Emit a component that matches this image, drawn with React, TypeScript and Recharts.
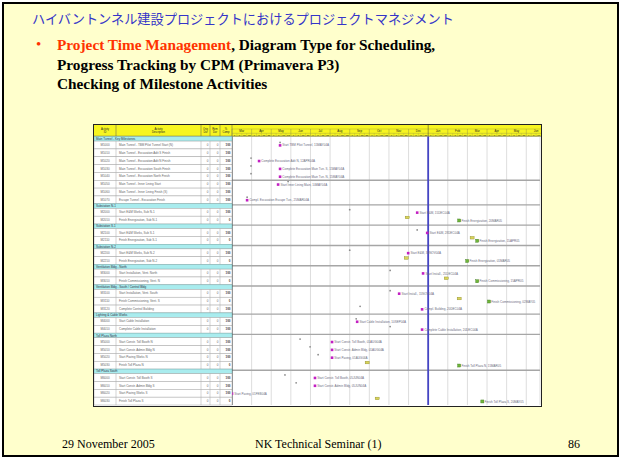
import React from "react";
import {
  ScatterChart,
  Scatter,
  XAxis,
  YAxis,
  CartesianGrid,
  ReferenceLine,
} from "recharts";

// --- schedule data ---
const groupNames = [
  "Main Tunnel - Key Milestones",
  "Substation N-1",
  "Substation S-1",
  "Substation N-2",
  "Ventilation Bldg - North",
  "Ventilation Bldg - South / Control Bldg",
  "Lighting & Cable Works",
  "Toll Plaza North",
  "Toll Plaza South",
];
const groupSizes = [8, 2, 2, 2, 2, 3, 2, 4, 4];

const activityIds = [
  "M1000", "M1010", "M1020", "M1030", "M1040", "M1050", "M1060", "M1070",
  "M2000", "M2010",
  "M2100", "M2110",
  "M2200", "M2210",
  "M3000", "M3010",
  "M3100", "M3110", "M3120",
  "M4000", "M4010",
  "M5000", "M5010", "M5020", "M5030",
  "M6000", "M6010", "M6020", "M6030",
];
const activityNames = [
  "Main Tunnel - TBM Pilot Tunnel Start (N)",
  "Main Tunnel - Excavation Adit S Finish",
  "Main Tunnel - Excavation Adit N Finish",
  "Main Tunnel - Excavation South Finish",
  "Main Tunnel - Excavation North Finish",
  "Main Tunnel - Inner Lining Start",
  "Main Tunnel - Inner Lining Finish (S)",
  "Escape Tunnel - Excavation Finish",
  "Start E&M Works, Sub N-1",
  "Finish Energization, Sub N-1",
  "Start E&M Works, Sub S-1",
  "Finish Energization, Sub S-1",
  "Start E&M Works, Sub N-2",
  "Finish Energization, Sub N-2",
  "Start Installation, Vent. North",
  "Finish Commissioning, Vent. N",
  "Start Installation, Vent. South",
  "Finish Commissioning, Vent. S",
  "Complete Control Building",
  "Start Cable Installation",
  "Complete Cable Installation",
  "Start Constr. Toll Booth N",
  "Start Constr. Admin Bldg N",
  "Start Paving Works N",
  "Finish Toll Plaza N",
  "Start Constr. Toll Booth S",
  "Start Constr. Admin Bldg S",
  "Start Paving Works S",
  "Finish Toll Plaza S",
];
const origDur = [
  0, 0, 0, 0, 0, 0, 0, 0, 0, 0, 0, 0, 0, 0, 0, 0, 0, 0, 0, 0, 0, 0, 0, 0, 0,
  0, 0, 0, 0,
];
const remDur = [
  0, 0, 0, 0, 0, 0, 0, 0, 0, 0, 0, 0, 0, 0, 0, 0, 0, 0, 0, 0, 0, 0, 0, 0, 0,
  0, 0, 0, 0,
];
const pctComplete = [
  100, 100, 100, 100, 100, 100, 100, 100,
  100, 0,
  100, 0,
  100, 0,
  100, 0,
  100, 0, 100,
  100, 100,
  100, 100, 100, 0,
  100, 100, 100, 0,
];
// months from Mar 2004
const baselineMonth: (number | null)[] = [
  2.45, null, 0.97, 0.97, 0.97, 2.86, null, 0.77,
  6.0, 8.93,
  9.44, 12.24,
  6.0, 8.88,
  8.06, 10.92,
  8.06, 11.58, 6.53,
  6.33, 8.06,
  3.47, 3.98, 4.39, 6.89,
  2.7, 3.27, null, 7.4,
];
const actualMonth: (number | null)[] = [
  2.45, null, 1.38, 2.45, 2.45, 2.35, null, 0.77,
  9.44, 11.58,
  9.95, 12.5,
  8.98, 11.99,
  9.74, 12.5,
  8.52, 13.1, 9.69,
  6.38, 9.69,
  5.1, 5.1, 5.1, 11.58,
  4.23, 4.23, 0, 12.76,
];
const barLabels = [
  "Start TBM Pilot Tunnel, 15MAY04A",
  "",
  "Complete Excavation Adit N, 12APR04A",
  "Complete Excavation Main Tun. S, 15MAY04A",
  "Complete Excavation Main Tun. N, 15MAY04A",
  "Start Inner Lining Main, 10MAY04A",
  "",
  "Compl. Excavation Escape Tun., 25MAR04A",
  "Start E&M, 15DEC04A",
  "Finish Energization, 20MAR05",
  "Start E&M, 28DEC04A",
  "Finish Energization, 15APR05",
  "Start E&M, 30NOV04A",
  "Finish Energization, 01MAR05",
  "Start Install., 25DEC04A",
  "Finish Commissioning, 15APR05",
  "Start Install., 15NOV04A",
  "Finish Commissioning, 02MAY05",
  "Compl. Building, 20DEC04A",
  "Start Cable Installation, 10SEP04A",
  "Complete Cable Installation, 20DEC04A",
  "Start Constr. Toll Booth, 01AUG04A",
  "Start Constr. Admin Bldg, 01AUG04A",
  "Start Paving, 01AUG04A",
  "Finish Toll Plaza N, 15MAR05",
  "Start Constr. Toll Booth, 05JUN04A",
  "Start Constr. Admin Bldg, 05JUN04A",
  "Start Paving, 01FEB04A",
  "Finish Toll Plaza S, 20MAY05",
];
const monthNames = [
  "Mar", "Apr", "May", "Jun", "Jul", "Aug", "Sep", "Oct",
  "Nov", "Dec", "Jan", "Feb", "Mar", "Apr", "May", "Jun",
];
const monthTicks = [0, 1, 2, 3, 4, 5, 6, 7, 8, 9, 10, 11, 12, 13, 14, 15];
const weekDays = ["1", "8", "15", "22"];
const yearNames = ["2004", "2005"];
const yearLabelAt = [5, 13.4];
const dataDate = 10;
const breakBefore = [5]; // extra separator line inside the first group

// --- layout ---
const GANTT_W = 447;
const GANTT_H = 281;
const HEAD_H = 11.5;
const TABLE_W = 138;
const GROUP_H = 4.6;
const ROW_H = 7.85;
const X_MAX = 15.7;
const PLOT_W = GANTT_W - TABLE_W - 1;
const PLOT_H = GANTT_H - HEAD_H - 1;
const MONTH_PX = PLOT_W / X_MAX;
const COLS = [0, 22, 107, 116, 126, 138];
const TINY = "'Liberation Sans', Arial, sans-serif";

type Row = { kind: "group" | "act"; top: number; h: number; idx: number };
const rows: Row[] = [];
const actTop: number[] = [];
let cursor = 0;
let ai = 0;
groupSizes.forEach((n, g) => {
  rows.push({ kind: "group", top: cursor, h: GROUP_H, idx: g });
  cursor += GROUP_H;
  for (let k = 0; k < n; k++) {
    rows.push({ kind: "act", top: cursor, h: ROW_H, idx: ai });
    actTop.push(cursor);
    cursor += ROW_H;
    ai++;
  }
});
const TOTAL = cursor;
const PX = PLOT_H / TOTAL;
const rowTicks = rows.map((r) => r.top + r.h / 2);
const groupLines = rows
  .filter((r) => r.kind === "group" && r.idx > 0)
  .map((r) => r.top + 1.2)
  .concat(breakBefore.map((i) => actTop[i]));

const baselineData = activityIds
  .map((id, i) => ({
    id,
    x: baselineMonth[i],
    y: actTop[i] + 1.3,
    done: pctComplete[i] === 100,
  }))
  .filter((d) => d.x !== null);
const actualData = activityIds
  .map((id, i) => ({
    id,
    x: actualMonth[i],
    y: actTop[i] + 4.3,
    done: pctComplete[i] === 100,
    label: barLabels[i],
  }))
  .filter((d) => d.x !== null);

const RowTick = (props: any) => {
  const { y, payload } = props;
  const k = rowTicks.indexOf(payload.value);
  const r = rows[k];
  if (!r) return null;
  const h = r.h * PX;
  const top = y - h / 2;
  if (r.kind === "group") {
    return (
      <g>
        <rect x={0} y={top} width={TABLE_W} height={h} fill="#A9ECEE" stroke="#7aa" strokeWidth={0.5} />
        <text x={2} y={y + 1.1} fontSize={3} fontFamily={TINY} fill="#334">
          {groupNames[r.idx]}
        </text>
      </g>
    );
  }
  const i = r.idx;
  return (
    <g fontFamily={TINY} fontSize={3} fill="#666">
      <rect x={0} y={top} width={TABLE_W} height={h} fill="#fff" stroke="#a4a4a4" strokeWidth={0.5} />
      {COLS.slice(1, -1).map((c) => (
        <line key={c} x1={c} x2={c} y1={top} y2={top + h} stroke="#a4a4a4" strokeWidth={0.5} />
      ))}
      <text x={11} y={y + 1.1} textAnchor="middle">{activityIds[i]}</text>
      <text x={25} y={y + 1.1}>{activityNames[i]}</text>
      <text x={114.5} y={y + 1.1} textAnchor="end">{origDur[i]}</text>
      <text x={124.5} y={y + 1.1} textAnchor="end">{remDur[i]}</text>
      <text x={136.5} y={y + 1.1} textAnchor="end" fill="#333" fontWeight="bold">
        {pctComplete[i]}
      </text>
    </g>
  );
};

const MonthTick = (props: any) => {
  const { x, payload } = props;
  const m = payload.value;
  const name = monthNames[m];
  const right = TABLE_W + PLOT_W;
  const yearStart = name === "Jan";
  return (
    <g fontFamily={TINY}>
      <line x1={x} x2={x} y1={yearStart ? 0 : 4} y2={HEAD_H} stroke={yearStart ? "#333" : "#9a9a40"} strokeWidth={0.5} />
      {x + MONTH_PX / 2 < right && (
        <text x={x + MONTH_PX / 2} y={7.4} fontSize={2.9} textAnchor="middle" fill="#222">
          {name}
        </text>
      )}
      {weekDays.map((d, k) => {
        const wx = x + (k * MONTH_PX) / 4;
        if (wx + MONTH_PX / 8 > right) return null;
        return (
          <g key={k}>
            {k > 0 && <line x1={wx} x2={wx} y1={8.3} y2={HEAD_H} stroke="#9a9a40" strokeWidth={0.3} />}
            <text x={wx + MONTH_PX / 8} y={10.7} fontSize={2.3} textAnchor="middle" fill="#333">
              {d}
            </text>
          </g>
        );
      })}
    </g>
  );
};

const YearTick = (props: any) => {
  const { x, payload } = props;
  const i = yearLabelAt.indexOf(payload.value);
  return (
    <text x={x} y={3.4} fontSize={3.3} fontFamily={TINY} textAnchor="middle" fill="#222">
      {yearNames[i]}
    </text>
  );
};

const BaseShape = (props: any) => {
  const { cx, cy, payload } = props;
  if (payload.done) return <circle cx={cx} cy={cy} r={0.9} fill="#8c8c8c" />;
  return <rect x={cx - 2} y={cy - 1.3} width={4} height={2.6} fill="#d9d45a" stroke="#8c8a2a" strokeWidth={0.4} />;
};

const ActShape = (props: any) => {
  const { cx, cy, payload } = props;
  return (
    <g>
      {payload.done ? (
        <rect x={cx - 1.3} y={cy - 1.3} width={2.6} height={2.6} fill="#c21fc2" />
      ) : (
        <rect x={cx - 1.5} y={cy - 1.5} width={3} height={3} fill="#6fb53a" stroke="#3d7a1d" strokeWidth={0.4} />
      )}
      <text x={cx + 2.3} y={cy + 1.1} fontSize={3} fontFamily={TINY} fill="#6c6c80">
        {payload.label}
      </text>
    </g>
  );
};

const headCells = [
  ["Activity", "ID"],
  ["Activity", "Description"],
  ["Orig", "Dur"],
  ["Rem", "Dur"],
  ["%", "Comp"],
];

function Gantt() {
  return (
    <div
      style={{
        position: "absolute",
        left: 94,
        top: 125,
        width: GANTT_W,
        height: GANTT_H,
        background: "#fff",
        boxShadow: "0 0 0 1px #222",
      }}
    >
      <svg
        width={GANTT_W}
        height={HEAD_H}
        style={{ position: "absolute", left: 0, top: 0 }}
        fontFamily={TINY}
      >
        <rect x={0} y={0} width={GANTT_W} height={HEAD_H} fill="#F7F520" />
        <line x1={TABLE_W} x2={GANTT_W} y1={4} y2={4} stroke="#9a9a40" strokeWidth={0.4} />
        <line x1={TABLE_W} x2={GANTT_W} y1={8.3} y2={8.3} stroke="#9a9a40" strokeWidth={0.4} />
        <line x1={0} x2={GANTT_W} y1={HEAD_H - 0.3} y2={HEAD_H - 0.3} stroke="#555" strokeWidth={0.6} />
        {headCells.map((c, k) => (
          <g key={k}>
            <line x1={COLS[k + 1]} x2={COLS[k + 1]} y1={0} y2={HEAD_H} stroke="#555" strokeWidth={0.5} />
            <text x={(COLS[k] + COLS[k + 1]) / 2} y={5} fontSize={2.6} textAnchor="middle" fill="#222">
              {c[0]}
            </text>
            <text x={(COLS[k] + COLS[k + 1]) / 2} y={8.4} fontSize={2.6} textAnchor="middle" fill="#222">
              {c[1]}
            </text>
          </g>
        ))}
      </svg>
      <div style={{ position: "absolute", left: 0, top: 0 }}>
        <ScatterChart
          width={GANTT_W}
          height={GANTT_H}
          margin={{ top: 0, right: 1, bottom: 1, left: 0 }}
        >
          <XAxis
            xAxisId="m"
            type="number"
            dataKey="x"
            orientation="top"
            height={7.5}
            domain={[0, X_MAX]}
            ticks={monthTicks}
            interval={0}
            tick={MonthTick}
            tickLine={false}
            axisLine={false}
          />
          <XAxis
            xAxisId="yr"
            type="number"
            dataKey="x"
            orientation="top"
            height={4}
            domain={[0, X_MAX]}
            ticks={yearLabelAt}
            interval={0}
            tick={YearTick}
            tickLine={false}
            axisLine={false}
          />
          <YAxis
            yAxisId="r"
            type="number"
            dataKey="y"
            reversed
            width={TABLE_W}
            domain={[0, TOTAL]}
            ticks={rowTicks}
            interval={0}
            tick={RowTick}
            tickLine={false}
            axisLine={{ stroke: "#333", strokeWidth: 1 }}
          />
          <CartesianGrid xAxisId="m" yAxisId="r" horizontal={false} stroke="#c6c6c6" strokeWidth={0.6} />
          {groupLines.map((g) => (
            <ReferenceLine key={g} xAxisId="m" yAxisId="r" y={g} stroke="#a6a6a6" strokeWidth={1.3} />
          ))}
          <ReferenceLine xAxisId="m" yAxisId="r" x={dataDate} stroke="#4545c4" strokeWidth={1.8} />
          <Scatter xAxisId="m" yAxisId="r" data={baselineData} shape={BaseShape} isAnimationActive={false} />
          <Scatter xAxisId="m" yAxisId="r" data={actualData} shape={ActShape} isAnimationActive={false} />
        </ScatterChart>
      </div>
    </div>
  );
}

export default function App() {
  const serif = "'Liberation Serif', 'Times New Roman', serif";
  return (
    <div
      style={{
        position: "absolute",
        left: 0,
        top: 0,
        width: 621,
        height: 459,
        background: "#fff",
        overflow: "hidden",
      }}
    >
      <div
        style={{
          position: "absolute",
          left: 2,
          top: 2,
          width: 617,
          height: 455,
          border: "2px solid #000",
          background: "#FFFFCC",
          boxSizing: "border-box",
        }}
      />
      <div
        style={{
          position: "absolute",
          left: 32,
          top: 11,
          fontSize: 13.2,
          lineHeight: "16px",
          color: "#3535c8",
          fontFamily: "'Noto Sans CJK JP', sans-serif",
          whiteSpace: "nowrap",
        }}
      >
        ハイバントンネル建設プロジェクトにおけるプロジェクトマネジメント
      </div>
      <div
        style={{
          position: "absolute",
          left: 36,
          top: 35,
          fontSize: 15,
          lineHeight: "19.5px",
          color: "#FF3300",
          fontFamily: serif,
        }}
      >
        •
      </div>
      <div
        style={{
          position: "absolute",
          left: 57,
          top: 35,
          fontSize: 15.3,
          lineHeight: "19.5px",
          fontWeight: "bold",
          fontFamily: serif,
          color: "#000",
          whiteSpace: "nowrap",
        }}
      >
        <div>
          <span style={{ color: "#FF3300" }}>Project Time Management</span>, Diagram Type for Scheduling,
        </div>
        <div>Progress Tracking by CPM (Primavera P3)</div>
        <div>Checking of Milestone Activities</div>
      </div>
      <Gantt />
      <div
        style={{
          position: "absolute",
          top: 436,
          left: 0,
          width: 621,
          height: 16,
          fontSize: 12,
          lineHeight: "16px",
          fontFamily: serif,
          color: "#000",
        }}
      >
        <span style={{ position: "absolute", left: 62 }}>29 November 2005</span>
        <span style={{ position: "absolute", left: 255 }}>NK Technical Seminar (1)</span>
        <span style={{ position: "absolute", left: 568 }}>86</span>
      </div>
    </div>
  );
}
